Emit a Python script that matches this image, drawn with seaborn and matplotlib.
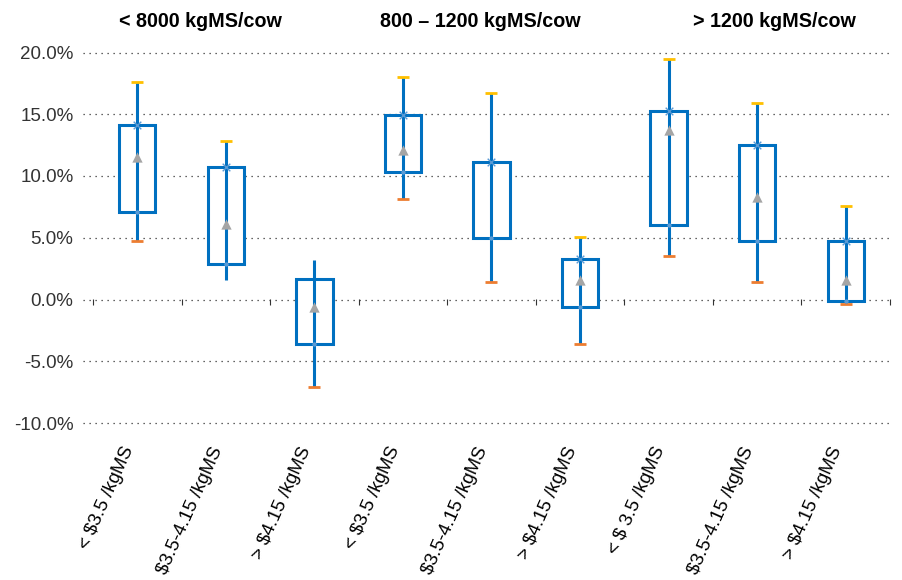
import numpy as np
import pandas as pd
import matplotlib
matplotlib.use('Agg')
import matplotlib.pyplot as plt
import seaborn as sns

# Price bands within each production group
labels = ['< $3.5 /kgMS', '$3.5-4.15 /kgMS', '> $4.15 /kgMS',
          '< $3.5 /kgMS', '$3.5-4.15 /kgMS', '> $4.15 /kgMS',
          '< $ 3.5 /kgMS', '$3.5-4.15 /kgMS', '> $4.15 /kgMS']
groups = ['< 8000 kgMS/cow', '800 \u2013 1200 kgMS/cow', '> 1200 kgMS/cow']

# values in percent (nan = marker not shown)
high = [17.6, 12.8, 3.2, 18.0, 16.7, 5.1, 19.5, 15.9, 7.6]
box_top = [14.1, 10.7, 1.7, 14.9, 11.1, 3.3, 15.3, 12.5, 4.7]
box_bottom = [7.1, 2.9, -3.6, 10.3, 5.0, -0.6, 6.0, 4.7, -0.1]
low = [4.7, 1.6, -7.1, 8.1, 1.4, -3.6, 3.5, 1.4, -0.4]
mean = [11.5, 6.1, -0.6, 12.1, np.nan, 1.6, 13.7, 8.3, 1.6]
high_marker = [17.6, 12.8, np.nan, 18.0, 16.7, 5.1, 19.5, 15.9, 7.6]
low_marker = [4.7, np.nan, -7.1, 8.1, 1.4, -3.6, 3.5, 1.4, -0.4]
top_marker = [14.1, 10.7, np.nan, 14.9, 11.1, 3.3, 15.3, 12.5, 4.7]

df = pd.DataFrame({'pos': np.arange(len(labels)), 'high': high, 'low': low,
                   'top': box_top, 'bottom': box_bottom, 'mean': mean,
                   'high_m': high_marker, 'low_m': low_marker, 'top_m': top_marker})

sns.set_theme(style='white')
plt.rcParams['font.family'] = ['Liberation Sans', 'DejaVu Sans']

blue = '#0070C0'
fig = plt.figure(figsize=(9.03, 5.80), dpi=100)
ax = fig.add_axes([93 / 903, 1 - 423 / 580, 797 / 903, 370.5 / 580])

# boxes (white fill hides the grid) and the high-low line through them
ax.bar(df['pos'], df['top'] - df['bottom'], bottom=df['bottom'], width=0.41,
       facecolor='white', edgecolor=blue, linewidth=2.2, zorder=2)
ax.vlines(df['pos'], df['low'], df['high'], color=blue, linewidth=2.2, zorder=3)

sns.scatterplot(data=df, x='pos', y='high_m', marker='_', s=70, color='#FFC000',
                linewidth=2, ax=ax, zorder=4)
sns.scatterplot(data=df, x='pos', y='low_m', marker='_', s=70, color='#ED7D31',
                linewidth=2, ax=ax, zorder=4)
sns.scatterplot(data=df, x='pos', y='top_m', marker='x', s=30, color='#5B9BD5',
                linewidth=1.0, ax=ax, zorder=4)
sns.scatterplot(data=df, x='pos', y='bottom', marker='o', s=10, color='#5B9BD5',
                linewidth=0, ax=ax, zorder=4)
sns.scatterplot(data=df, x='pos', y='mean', marker='^', s=55, color='#A5A5A5',
                linewidth=0, ax=ax, zorder=4)

ax.set_xlim(-0.5, len(labels) - 0.5)
ax.set_ylim(-10, 20)
ax.set_yticks(np.arange(-10, 21, 5))
ax.set_yticklabels([f'{v:.1f}%' for v in np.arange(-10, 21, 5)], fontsize=13.5, color='#333333')
ax.set_xticks(df['pos'])
ax.set_xticklabels(labels, rotation=66, ha='right', va='bottom', rotation_mode='anchor',
                   fontsize=13.5, color='black')
ax.tick_params(axis='x', length=0, pad=20)
ax.tick_params(axis='y', length=0, pad=14)
ax.set_xlabel('')
ax.set_ylabel('')
for s in ax.spines.values():
    s.set_visible(False)

for v in np.arange(-10, 21, 5):
    ax.axhline(v, xmin=-0.0125, xmax=1.003, color='#333333', linewidth=0.9,
               linestyle=(0, (1, 3.8)), zorder=1, clip_on=False)

# category boundary ticks on the zero line
zero = ax.secondary_xaxis((0 - ax.get_ylim()[0]) / (ax.get_ylim()[1] - ax.get_ylim()[0]))
zero.set_xticks(np.arange(-0.5, len(labels), 1))
zero.set_xticklabels([])
zero.tick_params(length=4, width=0.8, color='#333333', direction='out')
zero.spines['bottom'].set_visible(False)

for gx, name in zip([0.71, 3.87, 7.2], groups):
    ax.text(gx, 1.085, name, transform=ax.get_xaxis_transform(), ha='center', va='center',
            fontsize=14.2, fontweight='bold', color='black')

fig.savefig('out.png', dpi=100)
